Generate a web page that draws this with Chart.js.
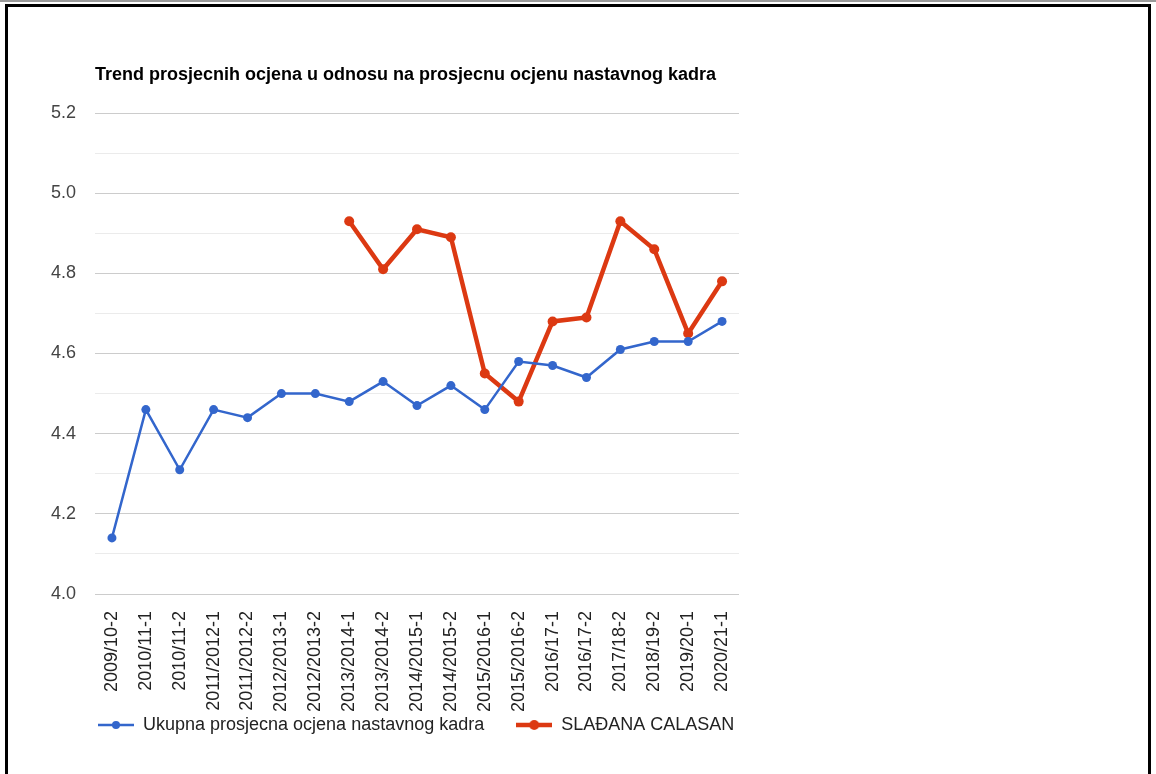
<!DOCTYPE html>
<html>
<head>
<meta charset="utf-8">
<script src="https://cdn.jsdelivr.net/npm/chart.js@4/dist/chart.umd.min.js"></script>
<style>
  html, body { margin: 0; padding: 0; background: #fff; width: 1156px; height: 774px; overflow: hidden; }
  #topline { position: absolute; left: 0; top: 0; width: 1156px; height: 2px; background: #9a9a9a; }
  #frame { position: absolute; left: 5px; top: 4px; width: 1146px; height: 800px; border: 3px solid #000; box-sizing: border-box; }
  #wrap { position: absolute; left: 0; top: 0; width: 1156px; height: 774px; }
</style>
</head>
<body>
<div id="topline"></div>
<div id="frame"></div>
<div id="wrap"><canvas id="c" width="1156" height="774"></canvas></div>
<script>
const chartTitle = 'Trend prosjecnih ocjena u odnosu na prosjecnu ocjenu nastavnog kadra';
const categories = ['2009/10-2','2010/11-1','2010/11-2','2011/2012-1','2011/2012-2','2012/2013-1','2012/2013-2','2013/2014-1','2013/2014-2','2014/2015-1','2014/2015-2','2015/2016-1','2015/2016-2','2016/17-1','2016/17-2','2017/18-2','2018/19-2','2019/20-1','2020/21-1'];
const seriesNames = ['Ukupna prosjecna ocjena nastavnog kadra', 'SLAĐANA CALASAN'];
const ukupnaValues = [4.14, 4.46, 4.31, 4.46, 4.44, 4.50, 4.50, 4.48, 4.53, 4.47, 4.52, 4.46, 4.58, 4.57, 4.54, 4.61, 4.63, 4.63, 4.68];
const sladjanaValues = [null, null, null, null, null, null, null, 4.93, 4.81, 4.91, 4.89, 4.55, 4.48, 4.68, 4.69, 4.93, 4.86, 4.65, 4.78];
const yMin = 4.0, yMax = 5.2, yStep = 0.1;

const BLUE = '#3366cc', RED = '#dc3912';
const FONT = 'Arial, "Liberation Sans", sans-serif';
const LEGEND_PAD = 32;

function legendIcon(color, lw, r) {
  const c = document.createElement('canvas');
  c.width = 36; c.height = 14;
  const g = c.getContext('2d');
  g.strokeStyle = color; g.lineWidth = lw;
  g.beginPath(); g.moveTo(0, 7); g.lineTo(36, 7); g.stroke();
  g.fillStyle = color; g.beginPath(); g.arc(18, 7, r, 0, Math.PI * 2); g.fill();
  return c;
}
const icons = [legendIcon(BLUE, 2.5, 4), legendIcon(RED, 4.5, 5)];

const legendPlacer = {
  id: 'legendPlacer',
  afterLayout(chart) {
    const lg = chart.legend;
    if (!lg) return;
    const h = lg.bottom - lg.top;
    lg.left = 98 - LEGEND_PAD;
    lg.top = 725 - LEGEND_PAD - 9;
    lg.bottom = lg.top + h;
  }
};

const chart = new Chart(document.getElementById('c'), {
  type: 'line',
  data: {
    labels: categories,
    datasets: [
      { label: seriesNames[0], data: ukupnaValues, borderColor: BLUE, backgroundColor: BLUE,
        borderWidth: 2.5, pointRadius: 4.5, pointHoverRadius: 4.5, pointBorderWidth: 0, tension: 0, yAxisID: 'y' },
      { label: seriesNames[1], data: sladjanaValues, borderColor: RED, backgroundColor: RED,
        borderWidth: 4.5, pointRadius: 5, pointHoverRadius: 5, pointBorderWidth: 0, tension: 0, spanGaps: false, yAxisID: 'y' }
    ]
  },
  plugins: [legendPlacer],
  options: {
    responsive: false,
    animation: false,
    events: [],
    layout: { padding: { left: 45, right: 300, top: 64, bottom: 0 } },
    scales: {
      x: {
        type: 'category', offset: true,
        grid: { display: false, drawTicks: false },
        border: { display: false },
        ticks: { color: '#222', font: { family: FONT, size: 18 }, minRotation: 90, maxRotation: 90, padding: 17, autoSkip: false },
        afterFit(s) { s.height = 120; }
      },
      y: {
        type: 'linear', position: 'left', min: yMin, max: yMax,
        grid: {
          drawTicks: false,
          lineWidth: 1,
          color: (ctx) => {
            const v = Math.round((ctx.tick ? ctx.tick.value : 0) * 10);
            return v % 2 === 0 ? '#cccccc' : '#ebebeb';
          }
        },
        border: { display: false },
        ticks: {
          stepSize: yStep, padding: 19, color: '#444', autoSkip: false,
          font: { family: FONT, size: 18 },
          callback: (v) => (Math.round(v * 10) % 2 === 0 ? Number(v).toFixed(1) : '')
        },
        afterFit(s) { s.width = 50; }
      },
      yRight: {
        type: 'linear', position: 'right', display: true,
        grid: { display: false, drawTicks: false },
        border: { display: false },
        ticks: { display: false },
        afterFit(s) { s.width = 117; }
      }
    },
    plugins: {
      title: {
        display: true, text: chartTitle, align: 'start', fullSize: false, color: '#000',
        font: { family: FONT, size: 18, weight: 'bold' },
        padding: { top: 0, bottom: 27.4 }
      },
      legend: {
        display: true, position: 'bottom', align: 'start', fullSize: true,
        labels: {
          color: '#222', font: { family: FONT, size: 18 }, padding: LEGEND_PAD,
          usePointStyle: true, pointStyleWidth: 36,
          generateLabels(chart) {
            const items = Chart.defaults.plugins.legend.labels.generateLabels(chart);
            items.forEach((it, i) => { it.pointStyle = icons[i]; });
            return items;
          }
        }
      },
      tooltip: { enabled: false }
    }
  }
});
</script>
</body>
</html>
